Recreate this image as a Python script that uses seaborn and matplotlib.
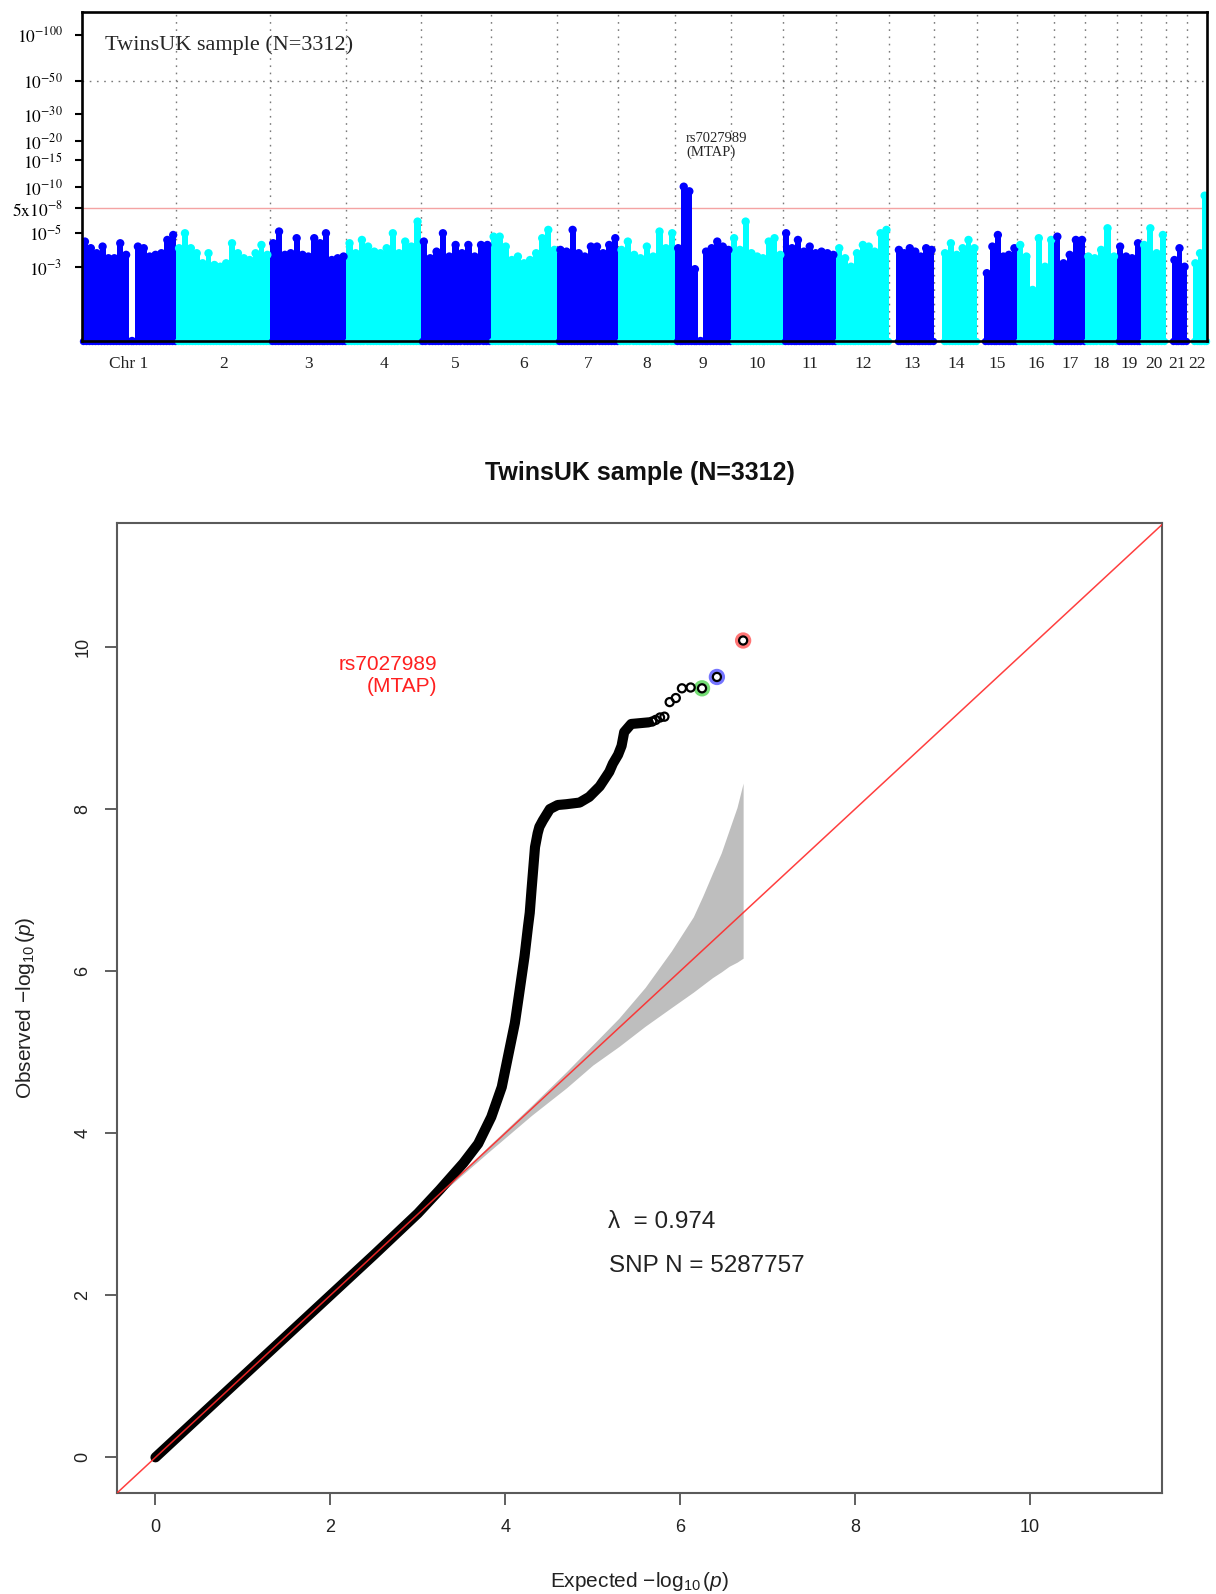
import numpy as np
import pandas as pd
import matplotlib
matplotlib.use("Agg")
import matplotlib.pyplot as plt
import seaborn as sns

# ---------------- Manhattan plot data ----------------
chrom_labels = ["Chr 1"] + [str(i) for i in range(2, 23)]
chrom_len_mb = [241, 241, 195, 190, 179, 171, 156, 146, 143, 133, 136, 136,
                115, 110, 102, 95, 79, 82, 61, 64, 54, 51]
# fraction of each chromosome at its start without typed SNPs (acrocentric short arms)
chrom_lead_gap = [0, 0, 0, 0, 0, 0, 0, 0, 0, 0, 0, 0,
                  0.15, 0.18, 0.17, 0, 0, 0, 0, 0, 0.28, 0.30]

# strongest -log10(p) in consecutive windows along each chromosome
top_chr1 = [4.40, 3.98, 3.69, 4.08, 3.42, 3.42, 4.29, 3.60, 0.98, 4.08, 3.98, 3.51, 3.60, 3.69, 4.51, 4.86]
top_chr2 = [3.98, 4.99, 3.98, 3.69, 3.17, 3.69, 3.09, 3.01, 3.17, 4.29, 3.69, 3.42, 3.33, 3.69, 4.18, 3.60]
top_chr3 = [4.29, 5.12, 3.60, 3.69, 4.63, 3.60, 3.51, 4.63, 4.29, 4.99, 3.33, 3.42, 3.51]
top_chr4 = [4.29, 3.69, 4.51, 4.08, 3.78, 3.69, 3.98, 4.99, 3.69, 4.40, 4.08, 5.95]
top_chr5 = [4.40, 3.42, 3.78, 4.99, 3.51, 4.18, 3.69, 4.18, 3.51, 4.18, 4.18]
top_chr6 = [4.74, 4.74, 4.08, 3.33, 3.51, 3.17, 3.33, 3.69, 4.63, 5.25, 3.88]
top_chr7 = [3.88, 3.78, 5.25, 3.69, 3.51, 4.08, 4.08, 3.69, 4.18, 4.63]
top_chr8 = [3.88, 4.40, 3.60, 3.42, 4.08, 3.51, 5.12, 3.98, 4.99]
top_chr9 = [3.98, 10.08, 9.40, 2.90, 0.98, 3.78, 3.98, 4.40, 4.08, 3.88]
top_chr10 = [4.63, 3.88, 5.95, 3.69, 3.51, 3.42, 4.40, 4.63, 3.60]
top_chr11 = [4.99, 3.98, 4.51, 3.78, 4.08, 3.69, 3.78, 3.69, 3.60]
top_chr12 = [3.98, 3.42, 3.01, 3.69, 4.18, 4.08, 3.78, 4.99, 5.25]
top_chr13 = [3.88, 3.69, 3.98, 3.78, 3.51, 3.98, 3.88]
top_chr14 = [3.69, 4.29, 3.60, 3.98, 4.51, 3.98]
top_chr15 = [2.73, 4.08, 4.86, 3.51, 3.60, 3.98]
top_chr16 = [4.18, 3.51, 2.12, 4.63, 3.01, 4.51]
top_chr17 = [4.74, 3.17, 3.60, 4.51, 4.51]
top_chr18 = [3.51, 3.42, 3.88, 5.38, 3.51]
top_chr19 = [4.08, 3.51, 3.42, 4.29]
top_chr20 = [4.18, 5.38, 3.69, 4.86]
top_chr21 = [3.33, 3.98, 3.01]
top_chr22 = [3.17, 3.69, 8.80]

chrom_tops = [top_chr1, top_chr2, top_chr3, top_chr4, top_chr5, top_chr6, top_chr7,
              top_chr8, top_chr9, top_chr10, top_chr11, top_chr12, top_chr13, top_chr14,
              top_chr15, top_chr16, top_chr17, top_chr18, top_chr19, top_chr20,
              top_chr21, top_chr22]

ytick_logp = [3, 5, 7.30103, 10, 15, 20, 30, 50, 100]
ytick_text = [r"$10^{-3}$", r"$10^{-5}$", r"$5\mathrm{x}10^{-8}$", r"$10^{-10}$",
              r"$10^{-15}$", r"$10^{-20}$", r"$10^{-30}$", r"$10^{-50}$", r"$10^{-100}$"]
gw_threshold = 7.30103

# ---------------- QQ plot data ----------------
n_snp = 5287757
lambda_gc = 0.974
# bulk of the sorted statistics (expected, observed -log10 p)
qq_exp = [0.00, 0.50, 1.00, 1.50, 2.00, 2.50, 3.00, 3.25, 3.52, 3.69, 3.84, 3.96, 4.03,
          4.11, 4.16, 4.22, 4.26, 4.28, 4.30, 4.34, 4.37, 4.39, 4.43, 4.47, 4.51, 4.60,
          4.70, 4.85, 4.96, 5.08, 5.19, 5.23, 5.29, 5.33, 5.36, 5.44, 5.54, 5.64]
qq_obs = [0.00, 0.50, 1.00, 1.50, 2.00, 2.50, 3.01, 3.30, 3.63, 3.87, 4.20, 4.57, 4.94,
          5.36, 5.73, 6.18, 6.55, 6.72, 7.00, 7.53, 7.70, 7.78, 7.86, 7.93, 8.00, 8.05,
          8.06, 8.08, 8.15, 8.28, 8.46, 8.56, 8.67, 8.78, 8.95, 9.05, 9.06, 9.07]
# most significant SNPs, drawn individually
tail_exp = [6.72, 6.42, 6.25, 6.12, 6.02, 5.95, 5.88, 5.82, 5.77, 5.72, 5.68]
tail_obs = [10.08, 9.63, 9.49, 9.50, 9.49, 9.37, 9.32, 9.14, 9.13, 9.10, 9.08]
tail_halo = ["#ff3b3b", "#3b3bff", "#3bd03b"]
# 95% band of the null order statistics
band_x = [3.30, 3.80, 4.30, 4.70, 5.00, 5.30, 5.60, 5.90, 6.15, 6.26, 6.37, 6.47,
          6.56, 6.65, 6.72]
band_hi = [3.31, 3.83, 4.34, 4.76, 5.09, 5.42, 5.80, 6.25, 6.67, 6.93, 7.21, 7.46,
           7.74, 8.02, 8.32]
band_lo = [3.29, 3.76, 4.22, 4.56, 4.84, 5.07, 5.32, 5.55, 5.74, 5.83, 5.92, 5.99,
           6.06, 6.11, 6.16]

# ---------------- figure ----------------
sns.set_theme(style="white")
plt.rcParams["font.family"] = ["Liberation Sans", "DejaVu Sans"]
plt.rcParams["mathtext.fontset"] = "custom"
plt.rcParams["mathtext.rm"] = "Liberation Sans"
plt.rcParams["mathtext.it"] = "Liberation Sans:italic"

W, H = 1216, 1594
fig = plt.figure(figsize=(W / 100, H / 100), dpi=100)
fig.patch.set_facecolor("white")

# ===== Manhattan =====
ax1 = fig.add_axes([82 / W, 1 - 341 / H, 1125 / W, 329 / H])
ax1.set_facecolor("white")
ymin, ymax = 0.98, 141
ax1.set_yscale("log")

bounds = np.concatenate([[0], np.cumsum(chrom_len_mb)])
blue, cyan = "#0000ff", "#00ffff"
rows = []
for c, tops in enumerate(chrom_tops):
    tops = np.asarray(tops, float)
    start = bounds[c] + chrom_lead_gap[c] * chrom_len_mb[c]
    end = bounds[c + 1]
    step = (end - start) / len(tops)
    centers = start + (np.arange(len(tops)) + 0.5) * step
    col = blue if c % 2 == 0 else cyan
    xs = np.concatenate([[start], centers, [end]])
    ys = np.concatenate([[tops[0]], tops, [tops[-1]]])
    ax1.fill_between(xs, 0.5, ys, step="mid", color=col, lw=0, zorder=2)
    for xv, yv in zip(centers, tops):
        rows.append({"pos": xv, "logp": yv, "grp": c % 2})
    nb = max(len(tops) * 2, 2)
    ax1.scatter(np.linspace(start + step * 0.25, end - step * 0.25, nb),
                np.full(nb, ymin), s=28, color=col, lw=0, clip_on=False, zorder=2)

tops_df = pd.DataFrame(rows)
sns.scatterplot(data=tops_df, x="pos", y="logp", hue="grp",
                palette={0: blue, 1: cyan}, s=36, linewidth=0, legend=False,
                ax=ax1, zorder=3)

ax1.vlines(bounds[1:-1], ymin, ymax, colors="#7a7a7a", lw=1.0,
           linestyles=(0, (1.2, 4)), zorder=1)
ax1.axhline(50, color="#7a7a7a", lw=1.0, ls=(0, (1.2, 4)), zorder=1)
ax1.axhline(gw_threshold, color="#f4a3a3", lw=1.0, zorder=1.5)

ax1.set_xlim(0, bounds[-1])
ax1.set_ylim(ymin, ymax)
ax1.set_yticks(ytick_logp)
ax1.set_yticks([], minor=True)
ax1.set_yticklabels(ytick_text)
for t in ax1.get_yticklabels():
    t.set_math_fontfamily("stix")
    t.set_fontsize(12.5)
    t.set_fontfamily("Liberation Serif")
centers_all = (bounds[:-1] + bounds[1:]) / 2
ax1.set_xticks(centers_all)
ax1.set_xticklabels(chrom_labels, fontfamily="Liberation Serif", fontsize=12.5)
ax1.tick_params(axis="x", length=0, pad=11, colors="#222222")
ax1.tick_params(axis="y", length=5, width=1.5, pad=9, direction="out", left=True,
                colors="black")
for s in ax1.spines.values():
    s.set_visible(True)
    s.set_color("black")
    s.set_linewidth(1.9)
    s.set_zorder(5)
ax1.set_xlabel("")
ax1.set_ylabel("")
ax1.text(0.0205, 0.90, "TwinsUK sample (N=3312)", transform=ax1.transAxes,
         fontfamily="Liberation Serif", fontsize=16, ha="left", va="center")
ax1.text(0.537, 0.593, "rs7027989\n(MTAP)", transform=ax1.transAxes,
         fontfamily="Liberation Serif", fontsize=10.5, ha="left", va="center",
         linespacing=1.05)

# ===== QQ plot =====
ax2 = fig.add_axes([117 / W, 1 - 1493 / H, 1045 / W, 970 / H])
ax2.set_facecolor("white")
lo_lim = -0.44
ax2.set_xlim(lo_lim, 11.51)
ax2.set_ylim(lo_lim, 11.53)

ax2.fill_between(band_x, band_lo, band_hi, color="#bebebe", lw=0, zorder=1)

bulk = pd.DataFrame({"expected": qq_exp, "observed": qq_obs})
sns.lineplot(data=bulk, x="expected", y="observed", color="black", lw=7.3,
             estimator=None, sort=False, solid_capstyle="round", ax=ax2, zorder=3)

ax2.scatter(tail_exp[:3], tail_obs[:3], s=80, facecolors="none",
            edgecolors=tail_halo, linewidths=2.8, alpha=0.7, zorder=3.5)
ax2.scatter(tail_exp, tail_obs, s=34, facecolors="none", edgecolors="black",
            linewidths=1.6, zorder=4)

ax2.plot([lo_lim, 11.53], [lo_lim, 11.53], color="#ff2a2a", lw=1.1, alpha=0.9,
         zorder=5)

ax2.set_xticks([0, 2, 4, 6, 8, 10])
ax2.set_yticks([0, 2, 4, 6, 8, 10])
ax2.tick_params(axis="both", length=8.5, width=1.2, direction="out",
                colors="#444444", labelsize=13, labelcolor="#222222")
ax2.tick_params(axis="x", pad=10, bottom=True)
ax2.tick_params(axis="y", pad=10, left=True)
for t in ax2.get_yticklabels():
    t.set_rotation(90)
    t.set_va("center")
for s in ax2.spines.values():
    s.set_visible(True)
    s.set_color("#5a5a5a")
    s.set_linewidth(1.5)

ax2.set_xlabel(r"Expected $-\log_{10}(\mathit{p})$", fontsize=15, color="#222222",
               labelpad=25)
ax2.set_ylabel(r"Observed $-\log_{10}(\mathit{p})$", fontsize=15, color="#222222",
               labelpad=27)

ax2.text(3.22, 9.65, "rs7027989\n(MTAP)", color="#ff2020", fontsize=15,
         ha="right", va="center", multialignment="right")
ax2.text(5.17, 2.90, "\u03bb  = " + f"{lambda_gc:.3f}", fontsize=17.5, ha="left",
         va="center", color="#222222")
ax2.text(5.19, 2.36, f"SNP N = {n_snp}", fontsize=17.5, ha="left", va="center",
         color="#222222")

fig.text(640 / W, 1 - 473 / H, "TwinsUK sample (N=3312)", ha="center", va="center",
         fontsize=18, fontweight="bold", color="#111111")

fig.savefig("out.png", dpi=100, facecolor="white")
